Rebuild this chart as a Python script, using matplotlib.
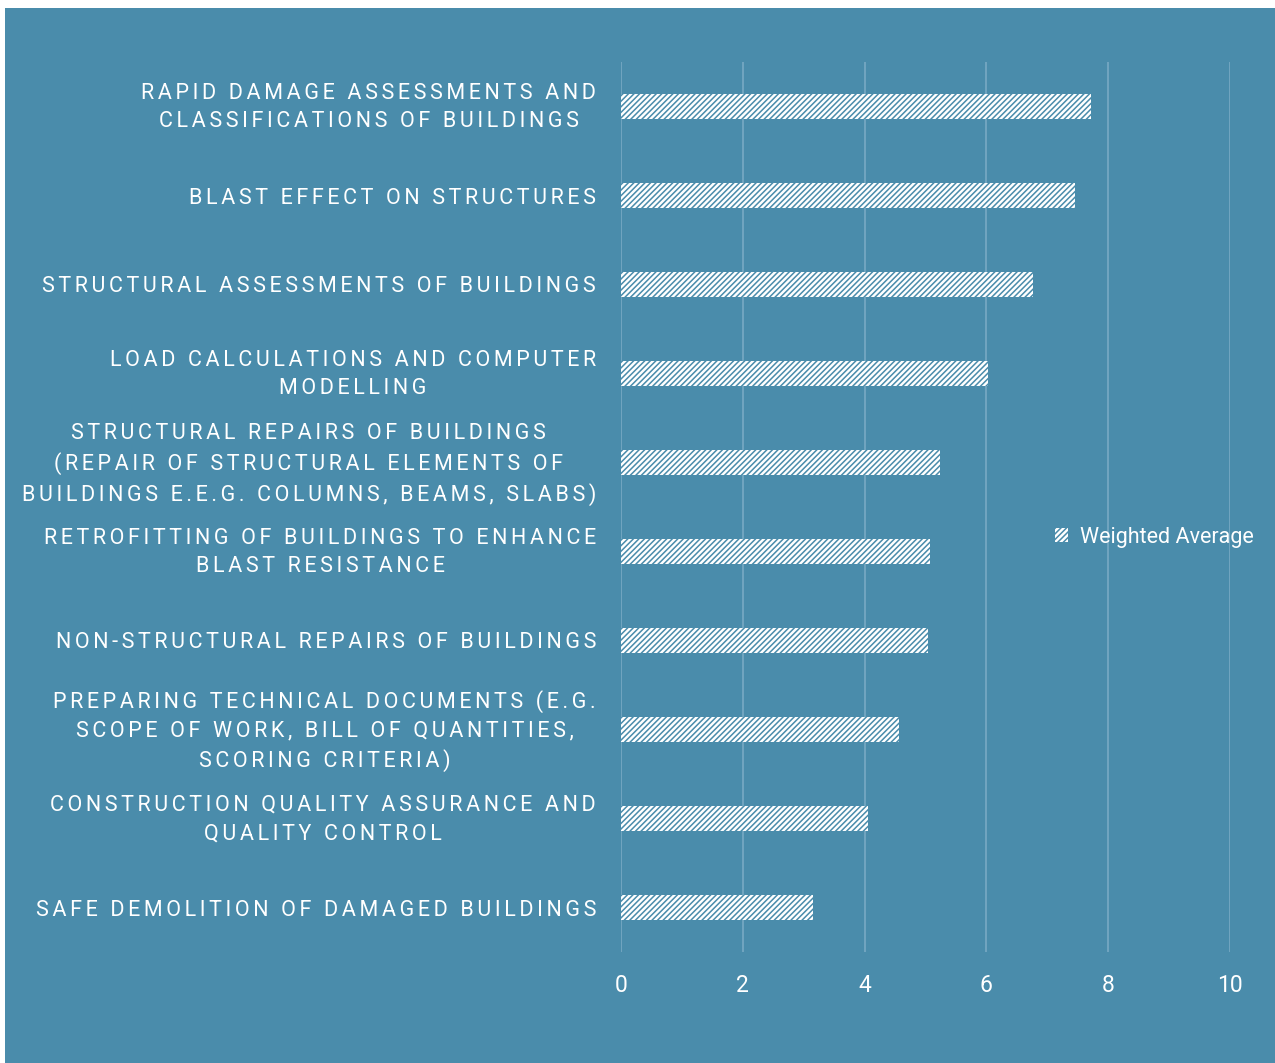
import numpy as np
import matplotlib
matplotlib.use("Agg")
import matplotlib.pyplot as plt
from matplotlib.patches import Rectangle, Patch
from matplotlib.transforms import ScaledTranslation

plt.rcParams['font.family'] = ['Roboto', 'DejaVu Sans']
plt.rcParams['hatch.linewidth'] = 1.1

# Skill areas (top to bottom) and their weighted average scores
categories = [
    "RAPID DAMAGE ASSESSMENTS AND\nCLASSIFICATIONS OF BUILDINGS",
    "BLAST EFFECT ON STRUCTURES",
    "STRUCTURAL ASSESSMENTS OF BUILDINGS",
    "LOAD CALCULATIONS AND COMPUTER\nMODELLING",
    "STRUCTURAL REPAIRS OF BUILDINGS\n(REPAIR OF STRUCTURAL ELEMENTS OF\nBUILDINGS E.E.G. COLUMNS, BEAMS, SLABS)",
    "RETROFITTING OF BUILDINGS TO ENHANCE\nBLAST RESISTANCE",
    "NON-STRUCTURAL REPAIRS OF BUILDINGS",
    "PREPARING TECHNICAL DOCUMENTS (E.G.\nSCOPE OF WORK, BILL OF QUANTITIES,\nSCORING CRITERIA)",
    "CONSTRUCTION QUALITY ASSURANCE AND\nQUALITY CONTROL",
    "SAFE DEMOLITION OF DAMAGED BUILDINGS",
]
weighted_average = [7.72, 7.45, 6.76, 6.02, 5.24, 5.07, 5.04, 4.57, 4.06, 3.15]
x_ticks = [0, 2, 4, 6, 8, 10]
series_name = "Weighted Average"

BG = '#4a8cab'
GRID = '#78a9c4'
W, H = 1275, 1063


def tracked(text, gap='\u2006'):
    """Widen letter spacing by putting a narrow space between characters."""
    return "\n".join(gap.join(line) for line in text.split("\n"))


fig = plt.figure(figsize=(W / 100, H / 100), dpi=100)
fig.patch.set_facecolor('white')
fig.add_artist(Rectangle((5 / W, 0), 1 - 5 / W, 1 - 8 / H,
                         transform=fig.transFigure, facecolor=BG,
                         edgecolor='none', zorder=-10))

ax = fig.add_axes([621 / W, 1 - 952 / H, (1230 - 621) / W, (952 - 62) / H])
ax.set_facecolor('none')

pos = np.arange(len(categories))
ax.barh(pos, weighted_average, height=0.27, color='white',
        edgecolor=BG, linewidth=0, hatch='//////', zorder=3)

ax.set_xlim(0, 10)
ax.set_ylim(len(categories) - 0.5, -0.5)
ax.set_xticks(x_ticks)
ax.set_xticklabels([str(t) for t in x_ticks], color='white', fontsize=16.5)
ax.set_yticks(pos)
ax.set_yticklabels([])
ax.tick_params(axis='y', length=0)
ax.tick_params(axis='x', length=0, pad=16)
ax.grid(axis='x', color=GRID, linewidth=1.2, zorder=0)
for s in ax.spines.values():
    s.set_visible(False)

# category labels, right-aligned against the axis; wrapped ones lifted a little
for p, cat in zip(pos, categories):
    dy = 5 / 100 if "\n" in cat else 0
    shift = ScaledTranslation(-25 / 100, dy, fig.dpi_scale_trans)
    ax.text(0, p, tracked(cat), transform=ax.get_yaxis_transform() + shift,
            ha='right', va='center_baseline', multialignment='center',
            color='white', fontsize=15.5, linespacing=1.45, clip_on=False)

handle = Patch(facecolor='white', edgecolor=BG, linewidth=0, hatch='//////')
fig.legend([handle], [series_name], loc='center left',
           bbox_to_anchor=(1055 / W, 1 - 537 / H), frameon=False,
           borderpad=0, borderaxespad=0,
           fontsize=15.5, labelcolor='white', handlelength=0.6,
           handleheight=0.6, handletextpad=0.55)

fig.savefig('out.png', dpi=100, facecolor=fig.get_facecolor())
